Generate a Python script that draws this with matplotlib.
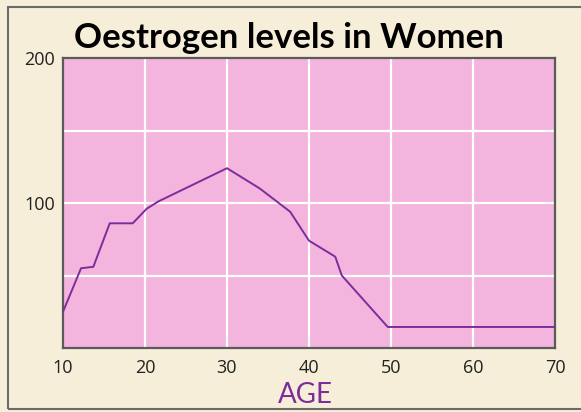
import matplotlib.pyplot as plt
from matplotlib.patches import Rectangle

# Oestrogen level
age = [10, 12.2, 13.7, 15.7, 18.5, 20.2, 21.6, 30, 34, 37.7, 40, 43.2, 44, 49.6, 70]
level = [25, 55, 56, 86, 86, 96, 101, 124, 110, 94, 74, 63, 50, 14.5, 14.5]

x_ticks = [10, 20, 30, 40, 50, 60, 70]
y_ticks = [100, 200]
grid_x = [20, 30, 40, 50, 60]
grid_y = [50, 100, 150]

W, H = 581, 412
fig = plt.figure(figsize=(W / 100, H / 100), dpi=100)
fig.patch.set_facecolor("#f6eed8")

# outer frame (cut off on the right)
fig.patches.append(Rectangle((8 / W, 1 - 409 / H), 1.0, (409 - 7) / H,
                             transform=fig.transFigure, fill=False,
                             edgecolor="#6b6b6b", linewidth=1.5))

ax = fig.add_axes([63 / W, 1 - 348 / H, (555 - 63) / W, (348 - 58) / H])
ax.set_facecolor("#f3b5dd")

for gx in grid_x:
    ax.axvline(gx, color="white", linewidth=1.6, zorder=1)
for gy in grid_y:
    ax.axhline(gy, color="white", linewidth=1.6, zorder=1)

ax.plot(age, level, color="#7d2c9c", linewidth=1.4, zorder=3)

ax.set_xlim(10, 70)
ax.set_ylim(0, 200)
ax.set_xticks(x_ticks)
ax.set_yticks(y_ticks)
ax.tick_params(length=0, labelsize=13, colors="#222222")
ax.tick_params(axis="x", pad=8)
ax.tick_params(axis="y", pad=6)
for lab in ax.get_xticklabels() + ax.get_yticklabels():
    lab.set_family("Open Sans")

for s in ax.spines.values():
    s.set_color("#5a5a5a")
    s.set_linewidth(1.6)

fig.text(289 / W, 1 - 38 / H, "Oestrogen levels in Women", ha="center", va="center",
         fontsize=25, fontweight="bold", family="Lato", color="black")
fig.text(305 / W, 1 - 395 / H, "AGE", ha="center", va="center",
         fontsize=20, family="Lato", color="#7d2c9c")

fig.savefig("out.png", dpi=100, facecolor=fig.get_facecolor())
